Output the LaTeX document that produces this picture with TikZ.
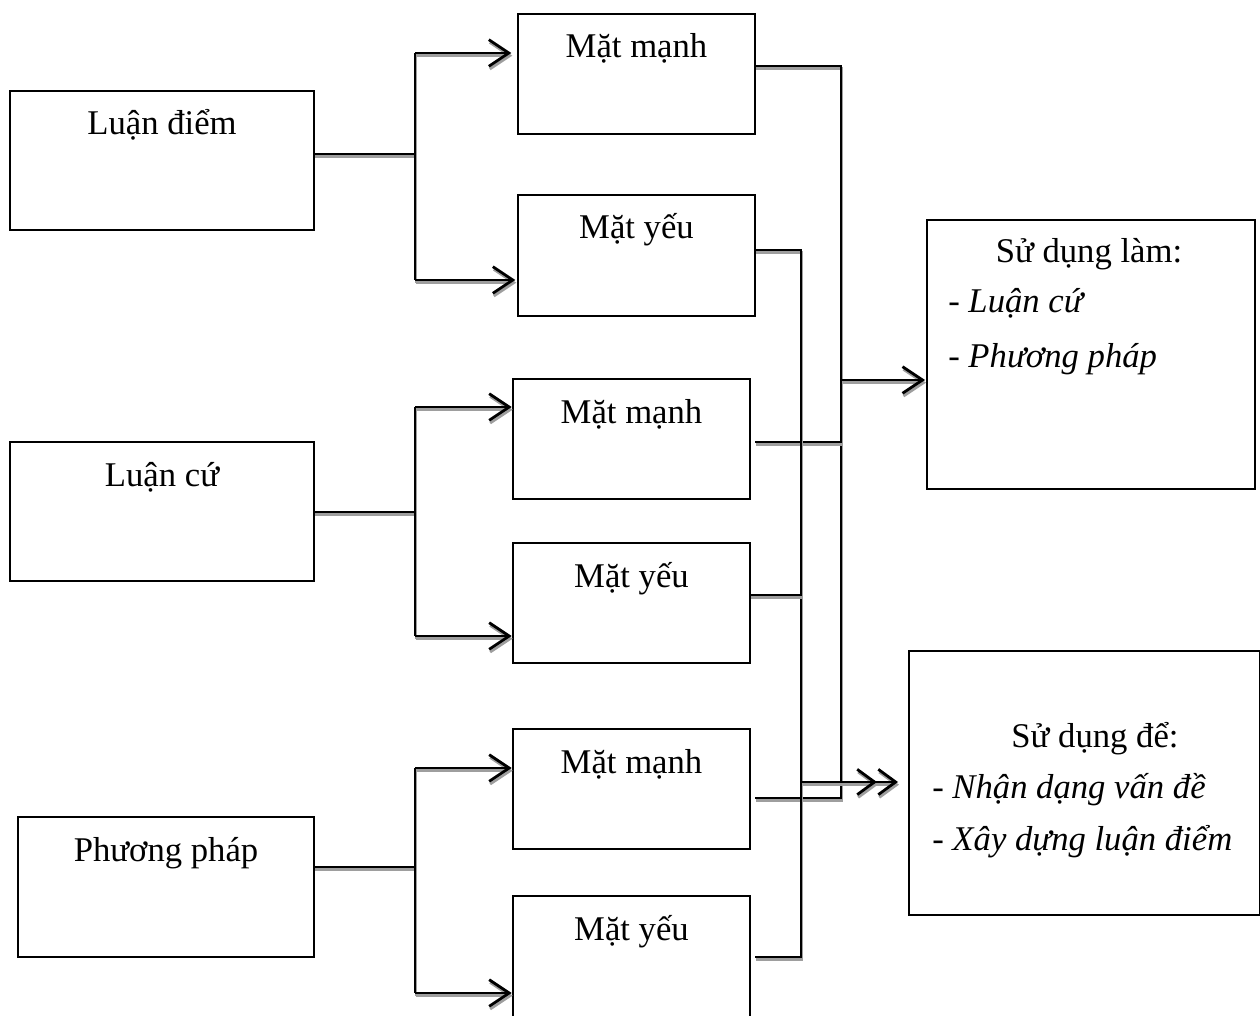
\documentclass[tikz,border=0pt]{standalone}
\usepackage{fontspec}
\setmainfont{Liberation Serif}
\usetikzlibrary{arrows.meta}
\begin{document}
\begin{tikzpicture}[x=0.75pt,y=-0.75pt,
  box/.style={draw=black, line width=0.9pt, inner sep=0pt, outer sep=0pt},
  lbox/.style={box, minimum width=228pt, minimum height=104.25pt},
  mbox/.style={box, minimum width=177.75pt, minimum height=90pt},
  lbl/.style={font=\fontsize{26}{39}\selectfont, inner sep=0pt, anchor=base},
  item/.style={lbl, anchor=base west},
  conn/.style={line width=2.1pt, black, line join=miter,
    preaction={draw=black!38, line width=2.1pt, transform canvas={shift={(0.75pt,-2pt)}}}},
  tip/.style={-{Straight Barb[length=15pt,width=20pt]}},
  dtip/.style={-{Straight Barb[length=13pt,width=19pt] Straight Barb[length=13pt,width=19pt]}}
]
\fill[white] (0,0) rectangle (1260,1016);
\useasboundingbox (0,0) rectangle (1260,1016);

% left boxes
\node[lbox] (ld) at (162,160.5) {};
\node[lbox] (lc) at (162,511.5) {};
\node[box, minimum width=222pt, minimum height=105pt] (pp) at (166,887) {};
\node[lbl] (tld) at (162,135) {Luận điểm};
\node[lbl] (tlc) at (162,486) {Luận cứ};
\node[lbl] (tpp) at (166,861) {Phương pháp};

% middle boxes
\node[mbox] (mm1) at (636.5,74) {};
\node[mbox, minimum height=90.75pt] (my1) at (636.5,255.5) {};
\node[mbox] (mm2) at (631.5,439) {};
\node[mbox] (my2) at (631.5,603) {};
\node[mbox] (mm3) at (631.5,789) {};
\node[mbox, minimum height=93pt] (my3) at (631.5,958) {};
\node[lbl] (tmm1) at (636.5,58) {Mặt mạnh};
\node[lbl] (tmy1) at (636.5,239) {Mặt yếu};
\node[lbl] (tmm2) at (631.5,423) {Mặt mạnh};
\node[lbl] (tmy2) at (631.5,587) {Mặt yếu};
\node[lbl] (tmm3) at (631.5,773) {Mặt mạnh};
\node[lbl] (tmy3) at (631.5,940) {Mặt yếu};

% right boxes
\node[box, minimum width=246pt, minimum height=201.75pt] (sdl) at (1091,354.5) {};
\node[box, minimum width=263.25pt, minimum height=198pt] (sdd) at (1084.5,783) {};
\node[lbl] (tsdl) at (1089,263) {Sử dụng làm:};
\node[item] (tsdl1) at (948,313) {- \textit{Luận cứ}};
\node[item] (tsdl2) at (948,367) {- \textit{Phương pháp}};
\node[lbl] (tsdd) at (1095,747) {Sử dụng để:};
\node[item] (tsdd1) at (932,798) {- \textit{Nhận dạng vấn đề}};
\node[item] (tsdd2) at (932,850) {- \textit{Xây dựng luận điểm}};

% junction coordinates
\coordinate (j1) at (415,154);
\coordinate (j1t) at (415,53);
\coordinate (j1b) at (415,280);
\coordinate (j2) at (415,512);
\coordinate (j2t) at (415,407);
\coordinate (j2b) at (415,636);
\coordinate (j3) at (415,867);
\coordinate (j3t) at (415,768);
\coordinate (j3b) at (415,993);

% left connectors
\draw[conn] (ld.east |- j1) -- (j1);
\draw[conn] (j1t) -- (j1b);
\draw[conn, tip] (j1t) -- ([xshift=-5pt]mm1.west |- j1t);
\draw[conn, tip] (j1b) -- ([xshift=-2pt]my1.west |- j1b);

\draw[conn] (lc.east |- j2) -- (j2);
\draw[conn] (j2t) -- (j2b);
\draw[conn, tip] (j2t) -- ([xshift=-1pt]mm2.west |- j2t);
\draw[conn, tip] (j2b) -- ([xshift=-1pt]my2.west |- j2b);

\draw[conn] (pp.east |- j3) -- (j3);
\draw[conn] (j3t) -- (j3b);
\draw[conn, tip] (j3t) -- ([xshift=-1pt]mm3.west |- j3t);
\draw[conn, tip] (j3b) -- ([xshift=-1pt]my3.west |- j3b);

% right connectors: strong sides
\coordinate (s1) at (841,66);
\coordinate (s3) at (841,798);
\coordinate (s2) at (841,442);
\coordinate (sa) at (841,380);
\draw[conn] (mm1.east |- s1) -- (s1) -- (s3) -- ([xshift=3.75pt]mm3.east |- s3);
\draw[conn] ([xshift=3.75pt]mm2.east |- s2) -- (s2);
\draw[conn, tip] (sa) -- ([xshift=-1.5pt]sdl.west |- sa);

% weak sides
\coordinate (w1) at (801,250);
\coordinate (w3) at (801,957);
\coordinate (w2) at (801,595);
\coordinate (wa) at (801,782);
\draw[conn] (my1.east |- w1) -- (w1) -- (w3) -- ([xshift=3.75pt]my3.east |- w3);
\draw[conn] (my2.east |- w2) -- (w2);
\draw[conn, dtip] (wa) -- ([xshift=-8.25pt]sdd.west |- wa);
\end{tikzpicture}
\end{document}
